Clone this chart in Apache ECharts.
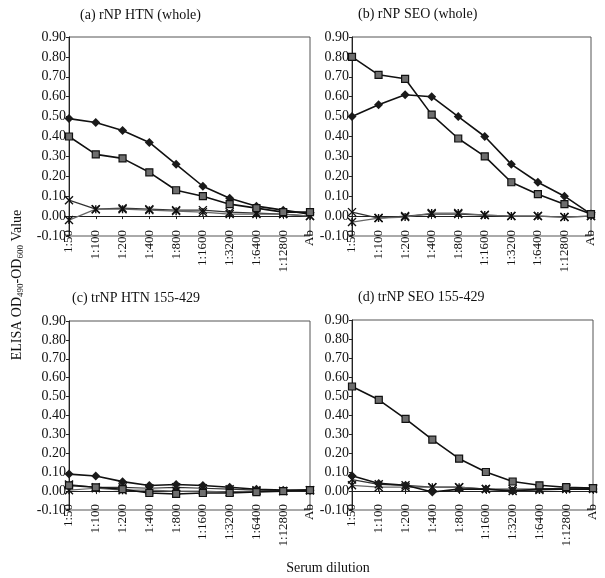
<!DOCTYPE html>
<html>
<head>
<meta charset="utf-8">
<script src="https://cdn.jsdelivr.net/npm/echarts@6/dist/echarts.min.js"></script>
<style>html,body{margin:0;padding:0;background:#fff}#c{width:605px;height:578px}</style>
</head>
<body>
<div id="c"></div>
<script>
// ---- data ----
const categories = ['1:50','1:100','1:200','1:400','1:800','1:1600','1:3200','1:6400','1:12800','Ab'];
const yTicks = {min: -0.1, max: 0.9, interval: 0.1};
const panelTitles = ['(a) rNP HTN (whole)', '(b) rNP SEO (whole)', '(c) trNP HTN 155-429', '(d) trNP SEO 155-429'];

// panel (a)
const aDiamond  = [0.49, 0.47, 0.43, 0.37, 0.26, 0.15, 0.09, 0.05, 0.03, 0.01];
const aSquare   = [0.40, 0.31, 0.29, 0.22, 0.13, 0.10, 0.06, 0.04, 0.02, 0.02];
const aCross    = [0.08, 0.035, 0.04, 0.035, 0.03, 0.03, 0.02, 0.015, 0.01, 0.00];
const aStar     = [-0.02, 0.035, 0.035, 0.03, 0.025, 0.02, 0.01, 0.01, 0.01, 0.00];
// panel (b)
const bDiamond  = [0.50, 0.56, 0.61, 0.60, 0.50, 0.40, 0.26, 0.17, 0.10, 0.01];
const bSquare   = [0.80, 0.71, 0.69, 0.51, 0.39, 0.30, 0.17, 0.11, 0.06, 0.01];
const bCross    = [0.02, -0.01, 0.00, 0.01, 0.01, 0.005, 0.00, 0.00, -0.005, 0.00];
const bStar     = [-0.03, -0.01, -0.005, 0.015, 0.015, 0.005, 0.00, 0.00, -0.005, 0.00];
// panel (c)
const cDiamond  = [0.09, 0.08, 0.05, 0.03, 0.035, 0.03, 0.02, 0.01, 0.005, 0.005];
const cSquare   = [0.03, 0.02, 0.01, -0.01, -0.015, -0.01, -0.01, -0.005, 0.00, 0.005];
const cCross    = [0.035, 0.02, 0.02, 0.015, 0.02, 0.015, 0.01, 0.005, 0.00, 0.005];
const cStar     = [0.005, 0.015, 0.005, 0.005, 0.00, 0.00, -0.005, 0.00, 0.00, 0.005];
// panel (d)
const dDiamond  = [0.08, 0.04, 0.03, -0.005, 0.01, 0.01, 0.00, 0.01, 0.01, 0.01];
const dSquare   = [0.55, 0.48, 0.38, 0.27, 0.17, 0.10, 0.05, 0.03, 0.02, 0.015];
const dCross    = [0.06, 0.035, 0.03, 0.02, 0.02, 0.01, 0.01, 0.01, 0.015, 0.015];
const dStar     = [0.03, 0.02, 0.02, 0.02, 0.02, 0.01, 0.00, 0.005, 0.01, 0.01];

const panels = [
  [aDiamond, aSquare, aCross, aStar],
  [bDiamond, bSquare, bCross, bStar],
  [cDiamond, cSquare, cCross, cStar],
  [dDiamond, dSquare, dCross, dStar]
];

// ---- layout ----
const FONT = '"Liberation Serif", "DejaVu Serif", serif';
const grids = [
  {left: 69, right: 295, top: 37, bottom: 342},
  {left: 352, right: 14, top: 37, bottom: 342},
  {left: 69, right: 295, top: 321, bottom: 68},
  {left: 352, right: 12, top: 320, bottom: 68}
];
const titlePos = [[80, 8], [358, 7], [72, 291], [358, 290]];

const chart = echarts.init(document.getElementById('c'), null, {renderer: 'canvas'});

const xAxes = [], yAxes = [], series = [];
grids.forEach((g, i) => {
  xAxes.push({
    type: 'category', gridIndex: i, data: categories, boundaryGap: false,
    axisLine: {onZero: true, lineStyle: {color: '#222', width: 1}},
    axisTick: {show: true, length: 3, lineStyle: {color: '#222'}},
    axisLabel: {rotate: 90, fontFamily: FONT, fontSize: 13, color: '#111', margin: -6, interval: 0},
    splitLine: {show: false}
  });
  yAxes.push({
    type: 'value', gridIndex: i, min: yTicks.min, max: yTicks.max, interval: yTicks.interval,
    axisLine: {show: true, onZero: false, lineStyle: {color: '#222', width: 1}},
    axisTick: {show: true, length: 3, lineStyle: {color: '#222'}},
    axisLabel: {fontFamily: FONT, fontSize: 14, color: '#111', margin: 3,
      formatter: v => v.toFixed(2)},
    splitLine: {show: false}
  });
  const [dia, sq, cr, st] = panels[i];
  series.push({
    type: 'line', xAxisIndex: i, yAxisIndex: i, data: dia,
    symbol: 'diamond', symbolSize: 9,
    itemStyle: {color: '#1a1a1a'}, lineStyle: {color: '#111', width: 1.6}, z: 4
  });
  series.push({
    type: 'line', xAxisIndex: i, yAxisIndex: i, data: sq,
    symbol: 'rect', symbolSize: 7,
    itemStyle: {color: '#6e6e6e', borderColor: '#111', borderWidth: 1.2}, lineStyle: {color: '#111', width: 1.6}, z: 5
  });
  series.push({
    type: 'line', xAxisIndex: i, yAxisIndex: i, data: cr,
    symbol: 'path://M0,0L10,10M10,0L0,10', symbolSize: 8,
    itemStyle: {color: '#111', borderColor: '#111', borderWidth: 1.4}, lineStyle: {color: '#333', width: 1.2}, z: 3
  });
  series.push({
    type: 'line', xAxisIndex: i, yAxisIndex: i, data: st,
    symbol: 'path://M0,0L10,10M10,0L0,10M5,0L5,10', symbolSize: 8,
    itemStyle: {color: '#111', borderColor: '#111', borderWidth: 1.4}, lineStyle: {color: '#666', width: 1.2}, z: 3
  });
});

const graphics = panelTitles.map((t, i) => ({
  type: 'text', left: titlePos[i][0], top: titlePos[i][1],
  style: {text: t, font: '14px ' + FONT, fill: '#111'}
}));
graphics.push({
  type: 'text', x: 17, y: 285, rotation: Math.PI / 2,
  style: {
    text: '{m|ELISA OD}{s|490}{m|-OD}{s|600}{m| Value}',
    align: 'center', verticalAlign: 'middle',
    rich: {
      m: {fontFamily: FONT, fontSize: 14, fill: '#111', color: '#111'},
      s: {fontFamily: FONT, fontSize: 9, fill: '#111', color: '#111', padding: [8, 0, 0, 0]}
    }
  }
});
graphics.push({
  type: 'text', x: 328, y: 568,
  style: {text: 'Serum dilution', font: '14px ' + FONT, fill: '#111', align: 'center', verticalAlign: 'middle'}
});

chart.setOption({
  animation: false,
  backgroundColor: '#fff',
  grid: grids.map(g => Object.assign({show: true, borderColor: '#555', borderWidth: 1, backgroundColor: 'transparent', containLabel: false}, g)),
  xAxis: xAxes,
  yAxis: yAxes,
  series: series,
  graphic: graphics
});
</script>
</body>
</html>
